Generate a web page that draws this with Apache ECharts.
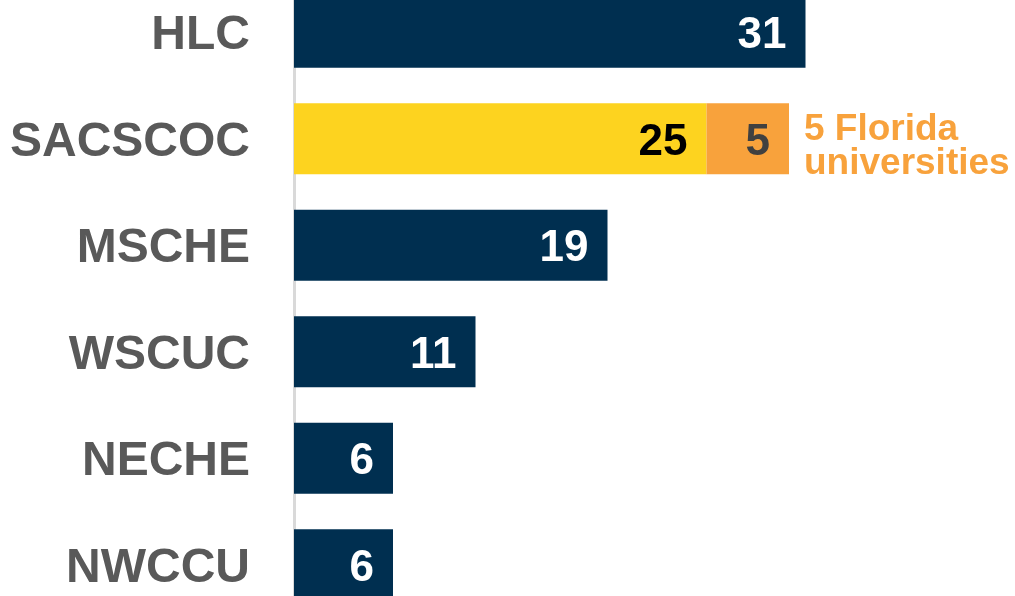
<!DOCTYPE html>
<html>
<head>
<meta charset="utf-8">
<script src="https://cdn.jsdelivr.net/npm/echarts@6/dist/echarts.min.js"></script>
<style>
  html, body { margin: 0; padding: 0; background: #fff; }
  #chart { width: 1015px; height: 596px; }
</style>
</head>
<body>
<div id="chart"></div>
<script>
// accreditors, top to bottom
const categories = ['HLC', 'SACSCOC', 'MSCHE', 'WSCUC', 'NECHE', 'NWCCU'];
const otherValues = [31, '-', 19, 11, 6, 6];
const sacscocValues = ['-', 25, '-', '-', '-', '-'];
const floridaValues = ['-', 5, '-', '-', '-', '-'];
const floridaNote = '5 Florida\nuniversities';

const NAVY = '#002F50';
const YELLOW = '#FDD31F';
const ORANGE = '#F8A23C';
const FONT = 'Liberation Sans, Arial, sans-serif';

const valueLabel = function (color) {
    return {
        show: true,
        position: 'insideRight',
        distance: 19,
        offset: [0, 4],
        color: color,
        fontFamily: FONT,
        fontWeight: 'bold',
        fontSize: 44
    };
};

// annotation sits at the end of the SACSCOC stack
const idx = categories.indexOf('SACSCOC');
const noteData = [[sacscocValues[idx] + floridaValues[idx], categories[idx]]];

const chart = echarts.init(document.getElementById('chart'));
chart.setOption({
    animation: false,
    grid: {
        left: 294,
        top: -21,
        width: 660,
        height: 639,
        containLabel: false,
        outerBoundsMode: 'none'
    },
    xAxis: {
        type: 'value',
        min: 0,
        max: 40,
        show: false
    },
    yAxis: {
        type: 'category',
        data: categories,
        inverse: true,
        axisLine: { show: true, lineStyle: { color: '#D9D9D9', width: 3 } },
        axisTick: { show: false },
        axisLabel: {
            margin: 44,
            formatter: '{a|{value}}',
            rich: {
                a: {
                    padding: [8, 0, 0, 0],
                    color: '#595959',
                    fontFamily: FONT,
                    fontWeight: 'bold',
                    fontSize: 48
                }
            }
        }
    },
    series: [
        {
            type: 'bar',
            stack: 'total',
            barWidth: 71,
            data: otherValues,
            itemStyle: { color: NAVY },
            label: valueLabel('#ffffff')
        },
        {
            type: 'bar',
            stack: 'total',
            barWidth: 71,
            data: sacscocValues,
            itemStyle: { color: YELLOW },
            label: valueLabel('#000000')
        },
        {
            type: 'bar',
            stack: 'total',
            barWidth: 71,
            data: floridaValues,
            itemStyle: { color: ORANGE },
            label: valueLabel('#404040')
        },
        {
            type: 'scatter',
            symbolSize: 0,
            data: noteData,
            silent: true,
            itemStyle: { opacity: 1 },
            label: {
                show: true,
                position: 'right',
                distance: 15,
                offset: [0, 8],
                formatter: floridaNote,
                color: ORANGE,
                opacity: 1,
                fontFamily: FONT,
                fontWeight: 'bold',
                fontSize: 37,
                lineHeight: 34,
                align: 'left'
            }
        }
    ]
});
</script>
</body>
</html>
